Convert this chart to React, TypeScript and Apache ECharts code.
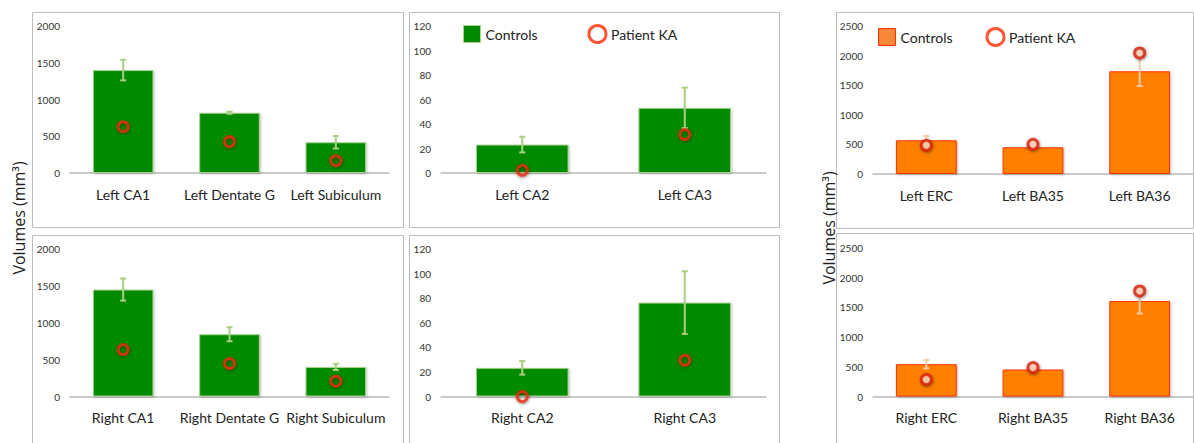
import React, { useEffect, useRef } from "react";
import * as echarts from "echarts";

// ---------- data ----------
const leftHippoCats = ["Left CA1", "Left Dentate G", "Left Subiculum"];
const leftHippoControls = [1400, 820, 418];
const leftHippoErr = [140, 15, 85];
const leftHippoPatient = [630, 426, 167];

const rightHippoCats = ["Right CA1", "Right Dentate G", "Right Subiculum"];
const rightHippoControls = [1450, 844, 401];
const rightHippoErr = [150, 95, 42];
const rightHippoPatient = [637, 447, 207];

const leftCACats = ["Left CA2", "Left CA3"];
const leftCAControls = [23.2, 53.2];
const leftCAErr = [6.4, 16.5];
const leftCAPatient = [2.2, 31.4];

const rightCACats = ["Right CA2", "Right CA3"];
const rightCAControls = [23.3, 76.4];
const rightCAErr = [5.5, 25.5];
const rightCAPatient = [0, 29.5];

const leftMTLCats = ["Left ERC", "Left BA35", "Left BA36"];
const leftMTLControls = [569, 451, 1735];
const leftMTLErr = [73, 30, 250];
const leftMTLPatient = [485, 502, 2044];

const rightMTLCats = ["Right ERC", "Right BA35", "Right BA36"];
const rightMTLControls = [543, 454, 1608];
const rightMTLErr = [70, 25, 212];
const rightMTLPatient = [286, 488, 1777];

const hippoTicks = { max: 2000, interval: 500 };
const caTicks = { max: 120, interval: 20 };
const mtlTicks = { max: 2500, interval: 500 };

const yTitle = "Volumes (mm³)";

// ---------- styles ----------
const FONT = "Lato";
const GREEN = "#008a00";
const GREEN_EDGE = "#a9d18e";
const GREEN_ERR = "#a9cf80";
const ORANGE = "#ff8000";
const ORANGE_EDGE = "#ff3000";
const ORANGE_ERR = "#f8c8a0";
const RED = "#ee2a0c";
const PANEL_BORDER = "#bdbdbd";

type Panel = {
  cats: string[];
  controls: number[];
  err: number[];
  patient: number[];
  ticks: { max: number; interval: number };
  grid: { left: number; top: number; width: number; height: number };
  orange: boolean;
};

const panels: Panel[] = [
  { cats: leftHippoCats, controls: leftHippoControls, err: leftHippoErr, patient: leftHippoPatient, ticks: hippoTicks, grid: { left: 70, top: 26, width: 319, height: 147 }, orange: false },
  { cats: leftCACats, controls: leftCAControls, err: leftCAErr, patient: leftCAPatient, ticks: caTicks, grid: { left: 441, top: 26, width: 325, height: 147 }, orange: false },
  { cats: leftMTLCats, controls: leftMTLControls, err: leftMTLErr, patient: leftMTLPatient, ticks: mtlTicks, grid: { left: 873, top: 26, width: 320, height: 148 }, orange: true },
  { cats: rightHippoCats, controls: rightHippoControls, err: rightHippoErr, patient: rightHippoPatient, ticks: hippoTicks, grid: { left: 70, top: 249, width: 319, height: 147.5 }, orange: false },
  { cats: rightCACats, controls: rightCAControls, err: rightCAErr, patient: rightCAPatient, ticks: caTicks, grid: { left: 441, top: 249, width: 325, height: 147.5 }, orange: false },
  { cats: rightMTLCats, controls: rightMTLControls, err: rightMTLErr, patient: rightMTLPatient, ticks: mtlTicks, grid: { left: 873, top: 248, width: 320, height: 148.5 }, orange: true },
];

function buildOption(): any {
  const grid: any[] = [];
  const xAxis: any[] = [];
  const yAxis: any[] = [];
  const series: any[] = [];

  panels.forEach((p, i) => {
    grid.push({ ...p.grid, containLabel: false });
    xAxis.push({
      type: "category",
      gridIndex: i,
      data: p.cats,
      axisLine: { show: true, lineStyle: { color: "#b8b8b8", width: 1.5 } },
      axisTick: { show: false },
      axisLabel: { interval: 0, fontFamily: FONT, fontSize: 14, color: "#222", margin: 14 },
    });
    yAxis.push({
      type: "value",
      gridIndex: i,
      min: 0,
      max: p.ticks.max,
      interval: p.ticks.interval,
      axisLine: { show: false },
      axisTick: { show: false },
      splitLine: { show: false },
      axisLabel: {
        fontFamily: FONT,
        fontSize: 10,
        color: "#333",
        margin: 10,
        formatter: (v: number) => String(v),
      },
    });
    series.push({
      type: "bar",
      name: "Controls",
      xAxisIndex: i,
      yAxisIndex: i,
      data: p.controls,
      barWidth: "57%",
      itemStyle: {
        color: p.orange ? ORANGE : GREEN,
        borderColor: p.orange ? ORANGE_EDGE : GREEN_EDGE,
        borderWidth: 1,
        shadowColor: "rgba(0,0,0,0.25)",
        shadowBlur: 2,
        shadowOffsetX: 1,
        shadowOffsetY: 1,
      },
      z: 2,
    });
    const errColor = p.orange ? ORANGE_ERR : GREEN_ERR;
    series.push({
      type: "custom",
      name: "Error",
      xAxisIndex: i,
      yAxisIndex: i,
      data: p.controls.map((m, k) => [k, m - p.err[k], m + p.err[k]]),
      encode: { x: 0, y: [1, 2] },
      z: 3,
      renderItem: (_params: any, api: any) => {
        const x = api.value(0);
        const top = api.coord([x, api.value(2)]);
        const bot = api.coord([x, api.value(1)]);
        const hw = 3;
        const style = { stroke: errColor, lineWidth: 2 };
        return {
          type: "group",
          children: [
            { type: "line", shape: { x1: top[0], y1: top[1], x2: bot[0], y2: bot[1] }, style },
            { type: "line", shape: { x1: top[0] - hw, y1: top[1], x2: top[0] + hw, y2: top[1] }, style },
            { type: "line", shape: { x1: bot[0] - hw, y1: bot[1], x2: bot[0] + hw, y2: bot[1] }, style },
          ],
        };
      },
    });
    series.push({
      type: "scatter",
      name: "Patient KA",
      xAxisIndex: i,
      yAxisIndex: i,
      data: p.patient,
      symbol: "circle",
      symbolSize: 10,
      z: 4,
      itemStyle: {
        color: p.orange ? "#fbd8bc" : "rgba(0,0,0,0)",
        borderColor: p.orange ? "#d8200a" : RED,
        borderWidth: 3,
        shadowColor: "rgba(0,0,0,0.55)",
        shadowBlur: 3,
        shadowOffsetX: 0.5,
        shadowOffsetY: 1,
      },
    });
  });

  const legendBase = {
    itemWidth: 17,
    itemHeight: 17,
    padding: 0,
    selectedMode: false,
    textStyle: { fontFamily: FONT, fontSize: 14, color: "#222" },
  };

  return {
    animation: false,
    backgroundColor: "#ffffff",
    grid,
    xAxis,
    yAxis,
    series,
    legend: [
      {
        ...legendBase,
        left: 463,
        top: 24,
        itemGap: 50,
        data: [
          { name: "Controls", icon: "rect", itemStyle: { color: GREEN, borderColor: GREEN_EDGE, borderWidth: 1 } },
          { name: "Patient KA", icon: "circle", itemStyle: { color: "#ffffff", borderColor: "#ff2a00", borderWidth: 3 } },
        ],
      },
      {
        ...legendBase,
        left: 878,
        top: 27,
        itemGap: 33,
        data: [
          { name: "Controls", icon: "rect", itemStyle: { color: "#f5883a", borderColor: ORANGE_EDGE, borderWidth: 1 } },
          { name: "Patient KA", icon: "circle", itemStyle: { color: "#ffffff", borderColor: "#ff2a00", borderWidth: 3 } },
        ],
      },
    ],
    graphic: [
      { type: "rect", shape: { x: 32.5, y: 12.5, width: 371, height: 215 }, style: { fill: "none", stroke: PANEL_BORDER, lineWidth: 1 }, silent: true, z: -1 },
      { type: "rect", shape: { x: 409.5, y: 12.5, width: 370, height: 215 }, style: { fill: "none", stroke: PANEL_BORDER, lineWidth: 1 }, silent: true, z: -1 },
      { type: "rect", shape: { x: 836.5, y: 12.5, width: 357, height: 216 }, style: { fill: "none", stroke: PANEL_BORDER, lineWidth: 1 }, silent: true, z: -1 },
      { type: "rect", shape: { x: 32.5, y: 235.5, width: 371, height: 220 }, style: { fill: "none", stroke: PANEL_BORDER, lineWidth: 1 }, silent: true, z: -1 },
      { type: "rect", shape: { x: 409.5, y: 235.5, width: 370, height: 220 }, style: { fill: "none", stroke: PANEL_BORDER, lineWidth: 1 }, silent: true, z: -1 },
      { type: "rect", shape: { x: 836.5, y: 233.5, width: 357, height: 222 }, style: { fill: "none", stroke: PANEL_BORDER, lineWidth: 1 }, silent: true, z: -1 },
      {
        type: "text",
        x: 19,
        y: 218,
        rotation: Math.PI / 2,
        style: { text: yTitle, fontFamily: "Open Sans", fontSize: 16, fill: "#222", textAlign: "center", textVerticalAlign: "middle" },
      },
      {
        type: "text",
        x: 829,
        y: 228,
        rotation: Math.PI / 2,
        style: { text: yTitle, fontFamily: "Open Sans", fontSize: 16, fill: "#222", textAlign: "center", textVerticalAlign: "middle" },
      },
    ],
  };
}

export default function App() {
  const ref = useRef<HTMLDivElement>(null);
  useEffect(() => {
    if (!ref.current) return;
    const chart = echarts.init(ref.current, undefined, { renderer: "svg" });
    chart.setOption(buildOption());
    return () => chart.dispose();
  }, []);
  return (
    <div
      ref={ref}
      style={{ position: "absolute", left: 0, top: 0, width: 1194, height: 443, background: "#fff" }}
    />
  );
}
